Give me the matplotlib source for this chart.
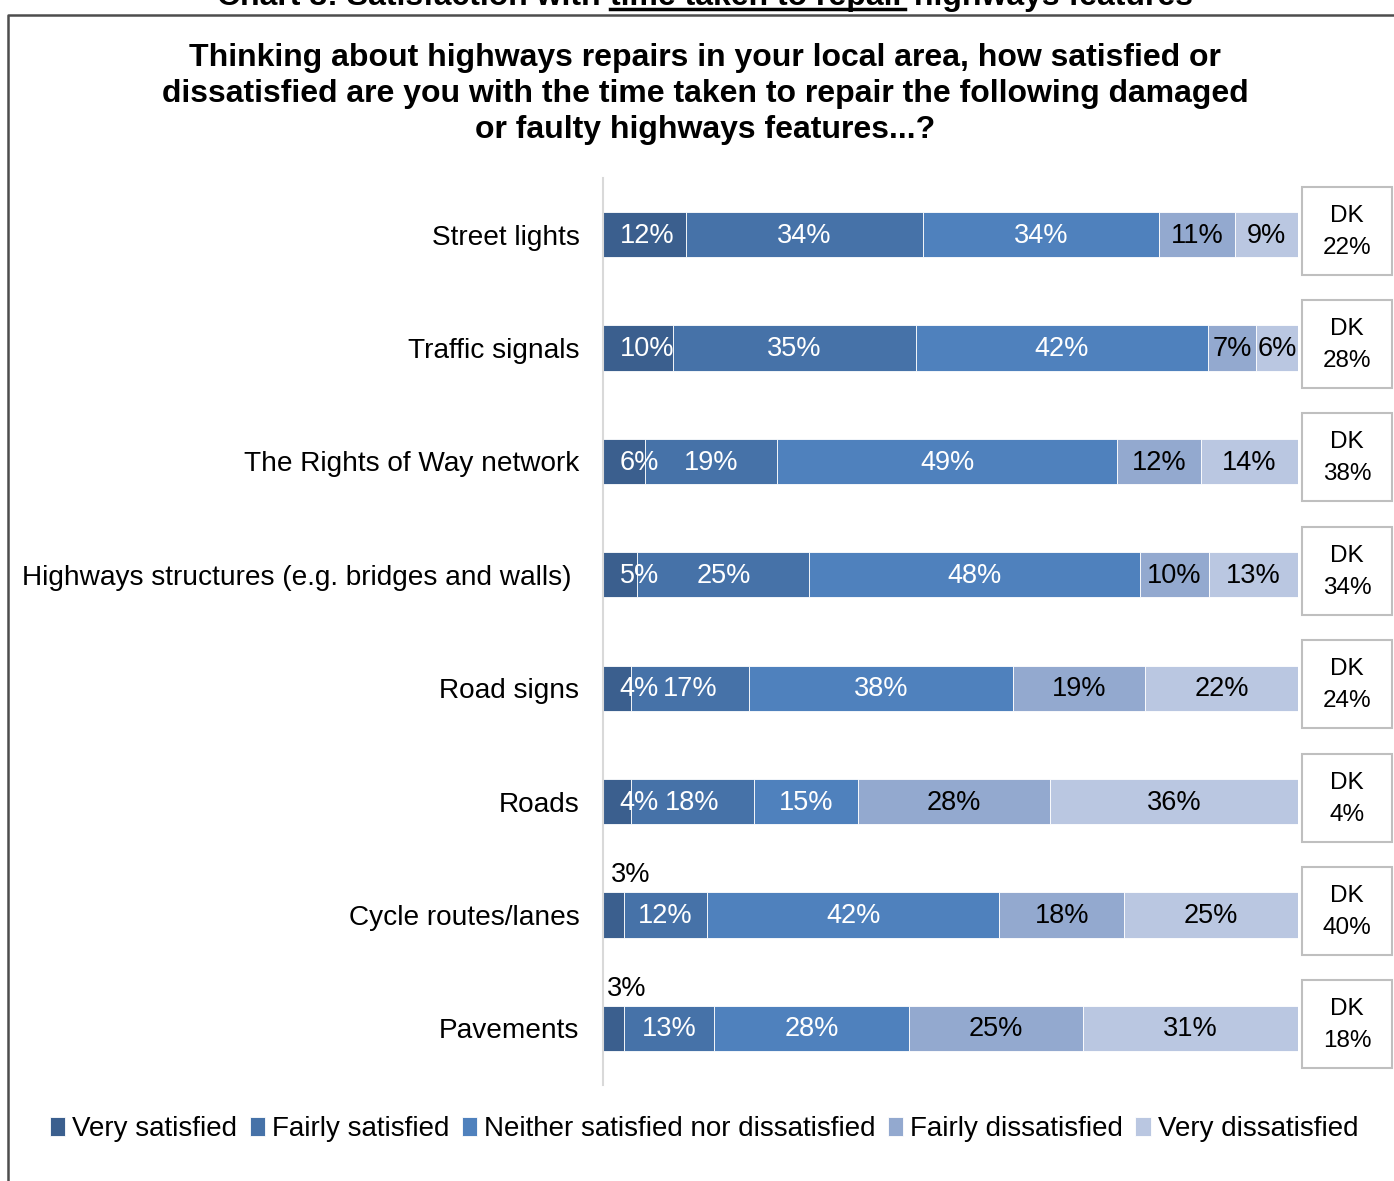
import numpy as np
import matplotlib.pyplot as plt
from matplotlib.patches import Rectangle
from matplotlib.lines import Line2D

plt.rcParams["font.family"] = ["Liberation Sans", "DejaVu Sans"]

features = ["Street lights", "Traffic signals", "The Rights of Way network",
            "Highways structures (e.g. bridges and walls) ", "Road signs",
            "Roads", "Cycle routes/lanes", "Pavements"]
series = ["Very satisfied", "Fairly satisfied",
          "Neither satisfied nor dissatisfied", "Fairly dissatisfied",
          "Very dissatisfied"]
very_sat = [12, 10, 6, 5, 4, 4, 3, 3]
fairly_sat = [34, 35, 19, 25, 17, 18, 12, 13]
neither = [34, 42, 49, 48, 38, 15, 42, 28]
fairly_dis = [11, 7, 12, 10, 19, 28, 18, 25]
very_dis = [9, 6, 14, 13, 22, 36, 25, 31]
dont_know = [22, 28, 38, 34, 24, 4, 40, 18]

colors = ["#3B5F8E", "#4672A8", "#4F81BD", "#93A9CF", "#BAC7E1"]
text_colors = ["white", "white", "white", "black", "black"]

vals = np.array([very_sat, fairly_sat, neither, fairly_dis, very_dis], float)
shares = vals / vals.sum(axis=0) * 100  # 100% stacked

W, H = 1394, 1181
fig = plt.figure(figsize=(W / 100, H / 100), dpi=100)
ax = fig.add_axes([603 / W, 1 - 1085 / H, 695 / W, 907 / H])

y = np.arange(len(features))
left = np.zeros(len(features))
for i, name in enumerate(series):
    ax.barh(y, shares[i], left=left, height=0.4, color=colors[i],
            edgecolor="white", linewidth=0.6, label=name)
    for j in range(len(features)):
        v = vals[i, j]
        cx = left[j] + shares[i, j] / 2
        if v <= 3:
            # too narrow: label sits above the bar
            ax.text(4.0 - 0.6 * (j == 7), y[j] - 0.35, f"{v:.0f}%",
                    ha="center", va="center", fontsize=19.5, color="black")
        elif i == 0:
            ax.text(2.4, y[j] + 0.01, f"{v:.0f}%", ha="left", va="center",
                    fontsize=19.5, color=text_colors[i])
        else:
            ax.text(cx, y[j] + 0.01, f"{v:.0f}%", ha="center", va="center",
                    fontsize=19.5, color=text_colors[i])
    left += shares[i]

ax.set_xlim(0, 100)
ax.set_ylim(len(features) - 0.5, -0.5)
ax.set_yticks(y)
ax.set_yticklabels(features, fontsize=20.2)
ax.set_xticks([])
ax.tick_params(axis="y", length=0, pad=17)
for s in ["top", "right", "bottom"]:
    ax.spines[s].set_visible(False)
ax.spines["left"].set_color("#D9D9D9")
ax.spines["left"].set_linewidth(1.5)

# "Don't know" boxes to the right of each bar
for j, dk in enumerate(dont_know):
    cx = 1347 / W
    cy = 178 + (j + 0.5) * 907 / 8 - 4
    fig.patches.append(Rectangle(((cx * W - 45) / W, 1 - (cy + 44) / H),
                                 90 / W, 88 / H, transform=fig.transFigure,
                                 facecolor="white", edgecolor="#BFBFBF",
                                 linewidth=1.5))
    fig.text(cx, 1 - (cy - 15) / H, "DK", ha="center", va="center",
             fontsize=17.5)
    fig.text(cx, 1 - (cy + 17) / H, f"{dk}%", ha="center", va="center",
             fontsize=17.5)

fig.text(705 / W, 1 - 94 / H,
         "Thinking about highways repairs in your local area, how satisfied or\n"
         "dissatisfied are you with the time taken to repair the following damaged\n"
         "or faulty highways features...?",
         ha="center", va="center", fontsize=23, fontweight="bold",
         linespacing=1.26)

# chart caption at the very top, partly cut off, with underlined phrase
parts = ["Chart 8: Satisfaction with ", "time taken to repair",
         " highways features"]
cap = [fig.text(0, 1 - 5 / H, p, ha="left", va="baseline", fontsize=23,
                fontweight="bold") for p in parts]
fig.canvas.draw()
r = fig.canvas.get_renderer()
widths = [t.get_window_extent(r).width for t in cap]
x0 = 705 - sum(widths) / 2
for t, w in zip(cap, widths):
    t.set_x(x0 / W)
    if t.get_text() == parts[1]:
        fig.add_artist(Line2D([x0 / W, (x0 + w) / W], [1 - 9 / H] * 2,
                              transform=fig.transFigure, color="black",
                              linewidth=2.5))
    x0 += w

# outer frame
fig.add_artist(Line2D([8 / W, 8 / W, 1 + 5 / W], [-0.01, 1 - 15 / H, 1 - 15 / H],
                      transform=fig.transFigure, color="#4D4D4D", linewidth=1.8))

handles, labels = ax.get_legend_handles_labels()
fig.legend(handles, labels, loc="center", bbox_to_anchor=(704 / W, 1 - 1129 / H),
           ncol=5, frameon=False, fontsize=20, handlelength=0.55,
           handleheight=0.65, handletextpad=0.25, columnspacing=0.45)

fig.savefig("out.png", dpi=100)
